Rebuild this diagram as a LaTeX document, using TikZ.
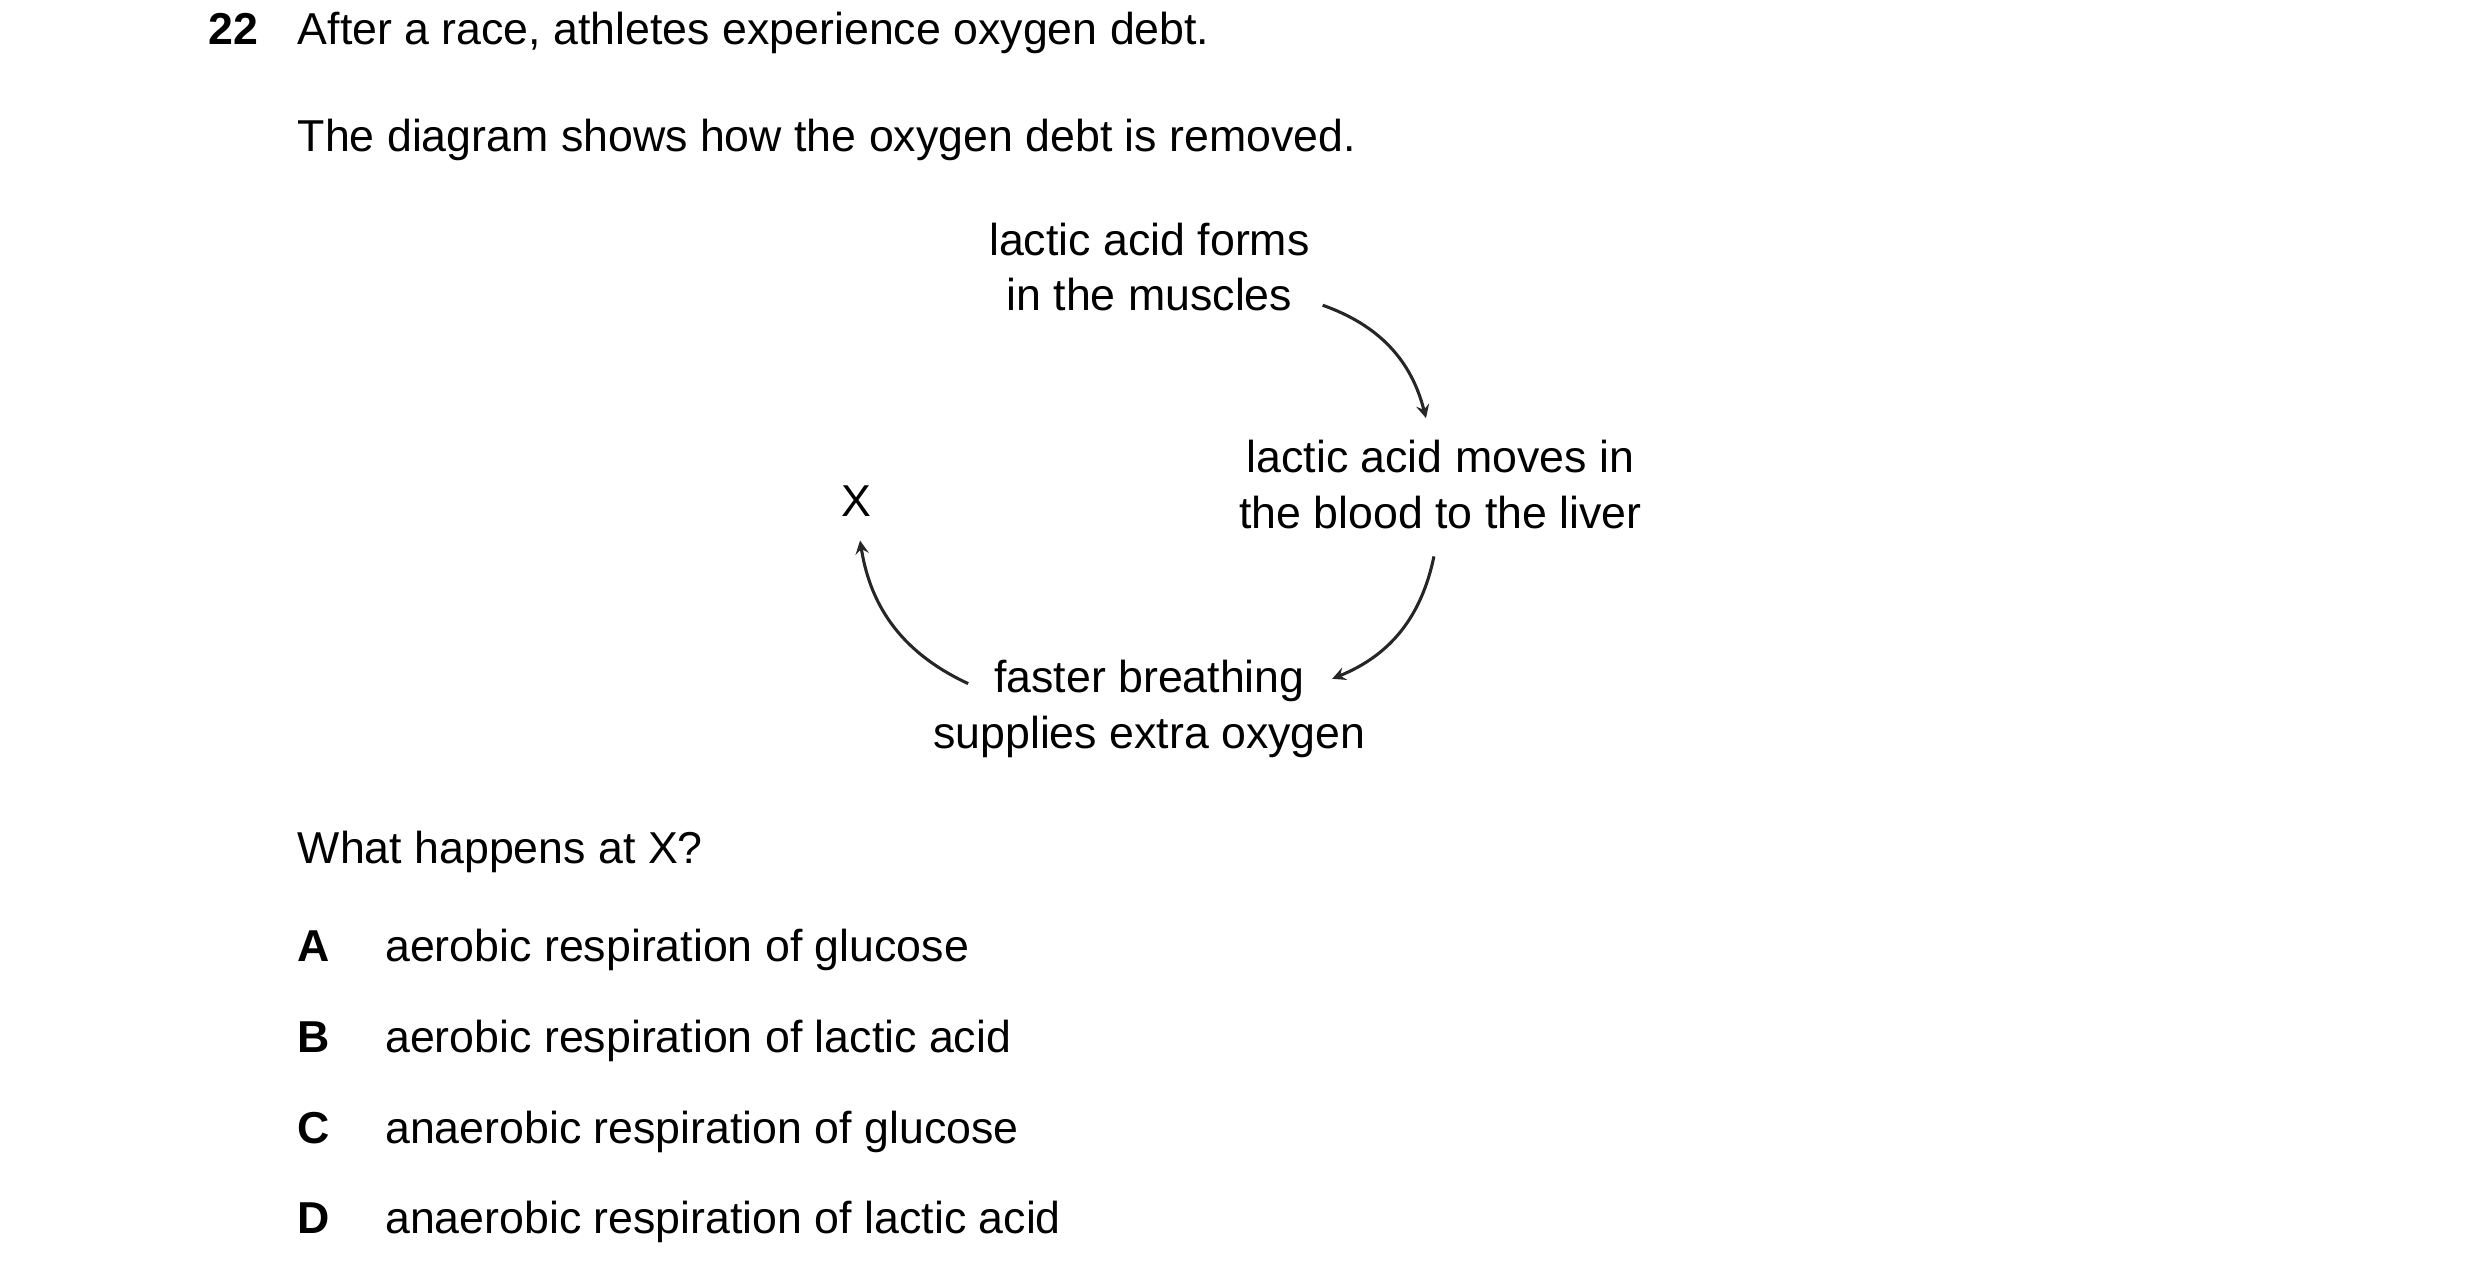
\documentclass[tikz,border=0pt]{standalone}
\usepackage{fontspec}
\setmainfont{Liberation Sans}
\usetikzlibrary{arrows}

\begin{document}
\begin{tikzpicture}[x=0.02cm,y=0.02cm,
  txt/.style={font=\fontsize{16}{20}\selectfont, inner sep=0pt},
  stage/.style={txt, align=center},
  cyc/.style={-stealth, line width=1.1pt, color=black!85, bend left=28}]
\useasboundingbox (0,0) rectangle (1560,802);
% question
\node[txt, anchor=base west, font=\fontsize{16}{20}\selectfont\bfseries] (num) at (131,774) {22};
\node[txt, anchor=base west] (intro) at (187,774) {After a race, athletes experience oxygen debt.};
\node[txt, anchor=base west] (lead) at (187,707) {The diagram shows how the oxygen debt is removed.};
% cycle
\node[stage] (muscles) at (723,634) {lactic acid forms\\in the muscles};
\node[stage] (liver) at (906,497) {lactic acid moves in\\the blood to the liver};
\node[stage] (breath) at (723,356) {faster breathing\\supplies extra oxygen};
\node[txt] (x) at (539,487) {X};
\coordinate (a1) at (832,610); \coordinate (a2) at (897,539);
\coordinate (b1) at (902,452); \coordinate (b2) at (838,375);
\coordinate (c1) at (609,372); \coordinate (c2) at (541,462);
\draw[cyc] (a1) to (a2);
\draw[cyc] (b1) to (b2);
\draw[cyc] (c1) to (c2);
% answers
\node[txt, anchor=base west] (ask) at (187,259) {What happens at X?};
\foreach \l/\t/\y in {A/aerobic respiration of glucose/197,
                      B/aerobic respiration of lactic acid/140,
                      C/anaerobic respiration of glucose/83,
                      D/anaerobic respiration of lactic acid/26}{
  \node[txt, anchor=base west, font=\fontsize{16}{20}\selectfont\bfseries] (key\l) at (187,\y) {\l};
  \node[txt, anchor=base west] (opt\l) at (242,\y) {\t};
}
\end{tikzpicture}
\end{document}
